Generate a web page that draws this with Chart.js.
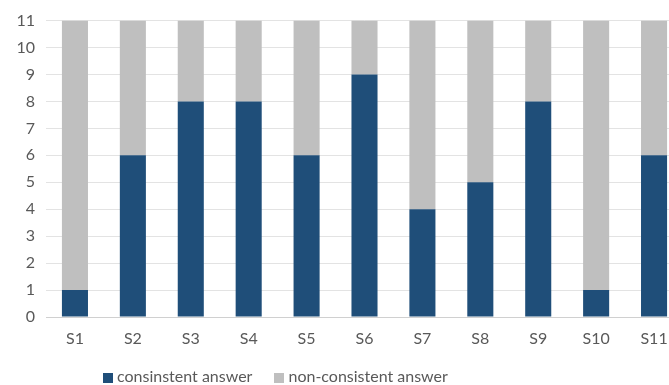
<!DOCTYPE html>
<html>
<head>
<meta charset="utf-8">
<script src="https://cdn.jsdelivr.net/npm/chart.js@4/dist/chart.umd.min.js"></script>
<style>
  html, body { margin: 0; padding: 0; background: #fff; overflow: hidden; width: 669px; height: 385px; }
  #wrap { position: absolute; left: 0; top: 0; width: 683px; height: 385px; }
  #legend { position: absolute; left: 103px; top: 366px; font-family: Lato, "Open Sans", sans-serif; font-size: 16px; color: #595959; white-space: nowrap; }
  #legend span.item { display: inline-block; margin-right: 22px; }
  #legend i { display: inline-block; width: 10px; height: 10px; margin-right: 4px; vertical-align: -1px; }
</style>
</head>
<body>
<div id="wrap"><canvas id="c" width="683" height="385"></canvas></div>
<div id="legend"></div>
<script>
// Survey items and how many answers were consistent across both rounds
const categories = ['S1', 'S2', 'S3', 'S4', 'S5', 'S6', 'S7', 'S8', 'S9', 'S10', 'S11'];
const consistent = [1, 6, 8, 8, 6, 9, 4, 5, 8, 1, 6];
const nonConsistent = [10, 5, 3, 3, 5, 2, 7, 6, 3, 10, 5];
const seriesNames = ['consinstent answer', 'non-consistent answer'];
const seriesColors = ['#1f4e79', '#bfbfbf'];
const yMax = 11;

const FONT = { family: 'Lato, "Open Sans", sans-serif', size: 16 };

const chart = new Chart(document.getElementById('c'), {
  type: 'bar',
  data: {
    labels: categories,
    datasets: [
      { label: seriesNames[0], data: consistent, backgroundColor: seriesColors[0] },
      { label: seriesNames[1], data: nonConsistent, backgroundColor: seriesColors[1] }
    ]
  },
  options: {
    responsive: false,
    animation: false,
    layout: { padding: { top: 18, right: 0, bottom: 0, left: 0 } },
    datasets: { bar: { categoryPercentage: 1, barPercentage: 0.45, borderWidth: 0 } },
    plugins: { legend: { display: false }, tooltip: { enabled: false } },
    scales: {
      x: {
        stacked: true,
        grid: { display: false, drawTicks: false },
        border: { display: true, color: '#d0d0d0', width: 1 },
        ticks: { font: FONT, color: '#595959', padding: 12, maxRotation: 0 },
        afterFit: s => { s.height = 68; }
      },
      y: {
        stacked: true,
        min: 0,
        max: yMax,
        ticks: { stepSize: 1, font: FONT, color: '#595959', padding: 11 },
        grid: { color: '#e3e3e3', drawTicks: false, lineWidth: 1 },
        border: { display: false },
        afterFit: s => { s.width = 46; }
      }
    }
  }
});

// Legend under the plot, built from the dataset labels and colours
const legend = document.getElementById('legend');
chart.data.datasets.forEach(ds => {
  const item = document.createElement('span');
  item.className = 'item';
  const sw = document.createElement('i');
  sw.style.background = ds.backgroundColor;
  item.appendChild(sw);
  item.appendChild(document.createTextNode(ds.label));
  legend.appendChild(item);
});
</script>
</body>
</html>
